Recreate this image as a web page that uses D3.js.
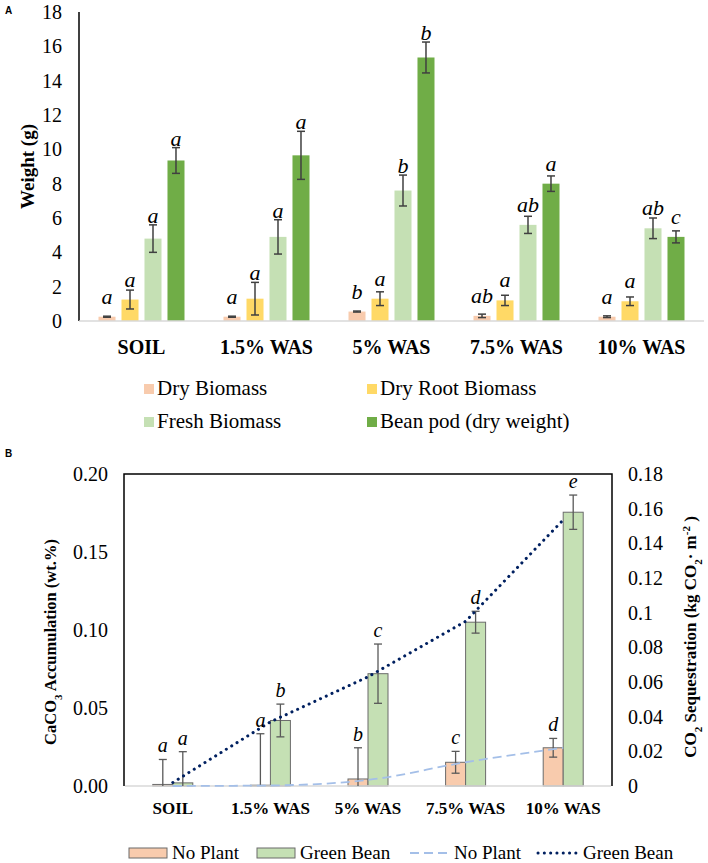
<!DOCTYPE html>
<html>
<head>
<meta charset="utf-8">
<script src="https://cdn.jsdelivr.net/npm/d3@7"></script>
<style>
  html, body { margin: 0; padding: 0; background: #fff; }
  svg { display: block; }
  svg text { font-family: "Liberation Serif", "Times New Roman", Times, "Nimbus Roman", "DejaVu Serif", serif !important; fill: #000; }
  svg text.sans { font-family: "Liberation Sans", Arial, "DejaVu Sans", sans-serif !important; }
</style>
</head>
<body>
<svg id="chart" width="708" height="863"></svg>
<script>
// ---------------- DATA ----------------
const categories = ["SOIL", "1.5% WAS", "5% WAS", "7.5% WAS", "10% WAS"];

// Panel A
const seriesA = ["Dry Biomass", "Dry Root Biomass", "Fresh Biomass", "Bean pod (dry weight)"];
const dryBiomass      = [0.25, 0.25, 0.55, 0.3, 0.25];
const dryBiomassErr   = [0.03, 0.03, 0.03, 0.1, 0.05];
const dryRootBiomass  = [1.25, 1.3, 1.3, 1.2, 1.15];
const dryRootErr      = [0.55, 0.95, 0.4, 0.3, 0.25];
const freshBiomass    = [4.8, 4.9, 7.6, 5.6, 5.4];
const freshErr        = [0.8, 1.0, 0.9, 0.5, 0.6];
const beanPod         = [9.35, 9.65, 15.35, 8.0, 4.9];
const beanPodErr      = [0.75, 1.4, 0.9, 0.45, 0.35];
const lettersDryBiomass = ["a", "a", "b", "ab", "a"];
const lettersDryRoot    = ["a", "a", "a", "a", "a"];
const lettersFresh      = ["a", "a", "b", "ab", "ab"];
const lettersBeanPod    = ["a", "a", "b", "a", "c"];
const ticksA = [0, 2, 4, 6, 8, 10, 12, 14, 16, 18];

// Panel B
const seriesB = ["No Plant", "Green Bean"];
const caco3NoPlant       = [0.001, 0.0005, 0.0045, 0.0152, 0.0245];
const caco3NoPlantErr    = [0.016, 0.033, 0.020, 0.007, 0.006];
const caco3GreenBean     = [0.002, 0.042, 0.072, 0.105, 0.1755];
const caco3GreenBeanErr  = [0.020, 0.0105, 0.019, 0.007, 0.011];
const lettersNoPlant     = ["a", "a", "b", "c", "d"];
const lettersGreenBean   = ["a", "b", "c", "d", "e"];
const co2NoPlant         = [0, 0.0003, 0.0035, 0.0137, 0.022];
const co2GreenBean       = [0.002, 0.037, 0.063, 0.095, 0.1535];
const ticksBLeft  = [0, 0.05, 0.10, 0.15, 0.20];
const ticksBRight = [0, 0.02, 0.04, 0.06, 0.08, 0.1, 0.12, 0.14, 0.16, 0.18];

// ---------------- STYLE ----------------
const colorsA = ["#f8cbad", "#ffd966", "#c5e0b4", "#70ad47"];
const colorsB = ["#f8cbad", "#c5e0b4"];
const errColor = "#404040";

const svg = d3.select("#chart");
svg.append("rect").attr("width", 708).attr("height", 863).attr("fill", "#fff");

// ================= PANEL A =================
const valuesA = [dryBiomass, dryRootBiomass, freshBiomass, beanPod];
const errsA = [dryBiomassErr, dryRootErr, freshErr, beanPodErr];
const lettersA = [lettersDryBiomass, lettersDryRoot, lettersFresh, lettersBeanPod];

const xA = d3.scaleBand().domain(categories).range([79, 704]);
const xAInner = d3.scaleBand().domain(seriesA).range([0, 86]).paddingInner(0.26);
const yA = d3.scaleLinear().domain([0, 18]).range([321, 12]);

const gA = svg.append("g");
gA.append("text").attr("class", "sans").attr("x", 5).attr("y", 14).text("A")
  .style("font-weight", "bold").style("font-size", "10px");

// y axis
const axA = gA.append("g").attr("transform", "translate(79,0)")
  .call(d3.axisLeft(yA).tickValues(ticksA).tickSize(0).tickPadding(17).tickFormat(d3.format("d")));
axA.select(".domain").remove();
axA.selectAll("text").style("font-size", "20px").attr("fill", "#000");
gA.append("line").attr("x1", 79).attr("x2", 79).attr("y1", yA(18)).attr("y2", yA(0))
  .attr("stroke", "#000").attr("stroke-width", 1.5);

gA.append("text").attr("transform", `translate(27,${(yA(0) + yA(18)) / 2}) rotate(-90)`)
  .attr("text-anchor", "middle").attr("dy", "0.35em")
  .style("font-weight", "bold").style("font-size", "19px").text("Weight (g)");

const flatA = [];
seriesA.forEach((s, si) => categories.forEach((c, ci) => {
  flatA.push({ s, si, c, v: valuesA[si][ci], e: errsA[si][ci], l: lettersA[si][ci] });
}));
const barX = d => xA(d.c) + xA.bandwidth() / 2 - 43 + xAInner(d.s);

gA.selectAll("rect.bar").data(flatA).join("rect").attr("class", "bar")
  .attr("x", barX).attr("width", xAInner.bandwidth())
  .attr("y", d => yA(d.v)).attr("height", d => yA(0) - yA(d.v))
  .attr("fill", d => colorsA[d.si]);

gA.append("line").attr("x1", 79).attr("x2", 704).attr("y1", yA(0)).attr("y2", yA(0))
  .attr("stroke", "#d9d9d9").attr("stroke-width", 1.5);

const ebA = gA.selectAll("g.eb").data(flatA).join("g").attr("class", "eb")
  .attr("stroke", errColor).attr("stroke-width", 1.5);
const cxA = d => barX(d) + xAInner.bandwidth() / 2;
ebA.append("line").attr("x1", cxA).attr("x2", cxA)
  .attr("y1", d => yA(d.v + d.e)).attr("y2", d => yA(Math.max(0, d.v - d.e)));
ebA.append("line").attr("x1", d => cxA(d) - 4).attr("x2", d => cxA(d) + 4)
  .attr("y1", d => yA(d.v + d.e)).attr("y2", d => yA(d.v + d.e));
ebA.append("line").attr("x1", d => cxA(d) - 4).attr("x2", d => cxA(d) + 4)
  .attr("y1", d => yA(Math.max(0, d.v - d.e))).attr("y2", d => yA(Math.max(0, d.v - d.e)));

gA.selectAll("text.let").data(flatA).join("text").attr("class", "let")
  .attr("x", cxA)
  .attr("y", d => Math.min(yA(d.v) - 13, yA(d.v + d.e) - 2))
  .attr("text-anchor", "middle")
  .style("font-style", "italic").style("font-size", "22px").text(d => d.l);

const axXA = gA.append("g").attr("transform", `translate(0,${yA(0)})`)
  .call(d3.axisBottom(xA).tickSize(0).tickPadding(19));
axXA.select(".domain").remove();
axXA.selectAll("text").style("font-weight", "bold").style("font-size", "20px").attr("fill", "#000");

const legA = gA.append("g");
const legPosA = [[144, 395], [367, 395], [144, 428], [367, 428]];
seriesA.forEach((s, i) => {
  const [lx, ly] = legPosA[i];
  legA.append("rect").attr("x", lx).attr("y", ly - 11).attr("width", 10).attr("height", 10).attr("fill", colorsA[i]);
  legA.append("text").attr("x", lx + 13).attr("y", ly).style("font-size", "21px").text(s);
});

// ================= PANEL B =================
const gB = svg.append("g");
gB.append("text").attr("class", "sans").attr("x", 5).attr("y", 457).text("B")
  .style("font-weight", "bold").style("font-size", "10px");

const xB = d3.scaleBand().domain(categories).range([124, 612]);
const xBInner = d3.scaleBand().domain(seriesB).range([0, 40]);
const yB = d3.scaleLinear().domain([0, 0.2]).range([786, 474]);
const yR = d3.scaleLinear().domain([0, 0.18]).range([786, 474]);

const axBL = gB.append("g").attr("transform", "translate(124,0)")
  .call(d3.axisLeft(yB).tickValues(ticksBLeft).tickSize(0).tickPadding(16).tickFormat(d3.format(".2f")));
axBL.select(".domain").remove();
axBL.selectAll("text").style("font-size", "20px").attr("fill", "#000");

const axBR = gB.append("g").attr("transform", "translate(612,0)")
  .call(d3.axisRight(yR).tickValues(ticksBRight).tickSize(0).tickPadding(16).tickFormat(d => String(+d.toFixed(2))));
axBR.select(".domain").remove();
axBR.selectAll("text").style("font-size", "20px").attr("fill", "#000");

gB.append("path").attr("d", `M124,786 V474 H612 V786`).attr("fill", "none")
  .attr("stroke", "#000").attr("stroke-width", 1.5);

const tL = gB.append("text").attr("transform", `translate(50,642) rotate(-90)`)
  .attr("text-anchor", "middle").attr("dy", "0.35em")
  .style("font-weight", "bold").style("font-size", "16.5px");
tL.append("tspan").text("CaCO");
tL.append("tspan").attr("baseline-shift", "sub").style("font-size", "11px").text("3");
tL.append("tspan").text(" Accumulation (wt.%)");

const tR = gB.append("text").attr("transform", `translate(690,637) rotate(-90)`)
  .attr("text-anchor", "middle").attr("dy", "0.35em")
  .style("font-weight", "bold").style("font-size", "17px");
tR.append("tspan").text("CO");
tR.append("tspan").attr("baseline-shift", "sub").style("font-size", "11px").text("2");
tR.append("tspan").text(" Sequestration (kg CO");
tR.append("tspan").attr("baseline-shift", "sub").style("font-size", "11px").text("2");
tR.append("tspan").text("· m");
tR.append("tspan").attr("baseline-shift", "super").style("font-size", "11px").text("-2");
tR.append("tspan").text(" )");

const valuesB = [caco3NoPlant, caco3GreenBean];
const errsB = [caco3NoPlantErr, caco3GreenBeanErr];
const lettersB = [lettersNoPlant, lettersGreenBean];
const flatB = [];
seriesB.forEach((s, si) => categories.forEach((c, ci) => {
  flatB.push({ s, si, c, v: valuesB[si][ci], e: errsB[si][ci], l: lettersB[si][ci] });
}));
const barXB = d => xB(d.c) + xB.bandwidth() / 2 - 20 + xBInner(d.s);
const bwB = xBInner.bandwidth();

gB.selectAll("rect.bar").data(flatB).join("rect").attr("class", "bar")
  .attr("x", barXB).attr("width", bwB)
  .attr("y", d => yB(d.v)).attr("height", d => yB(0) - yB(d.v))
  .attr("fill", d => colorsB[d.si]).attr("stroke", "#6b6b6b").attr("stroke-width", 1);

gB.append("line").attr("x1", 125).attr("x2", 611).attr("y1", 786).attr("y2", 786)
  .attr("stroke", "#d9d9d9").attr("stroke-width", 1.5);

const ebB = gB.selectAll("g.eb").data(flatB).join("g").attr("class", "eb")
  .attr("stroke", "#595959").attr("stroke-width", 1.3);
const cxB = d => barXB(d) + bwB / 2;
ebB.append("line").attr("x1", cxB).attr("x2", cxB)
  .attr("y1", d => yB(d.v + d.e)).attr("y2", d => yB(Math.max(0, d.v - d.e)));
ebB.append("line").attr("x1", d => cxB(d) - 4).attr("x2", d => cxB(d) + 4)
  .attr("y1", d => yB(d.v + d.e)).attr("y2", d => yB(d.v + d.e));
ebB.filter(d => d.v - d.e > 0).append("line").attr("x1", d => cxB(d) - 4).attr("x2", d => cxB(d) + 4)
  .attr("y1", d => yB(d.v - d.e)).attr("y2", d => yB(d.v - d.e));

const cx = c => xB(c) + xB.bandwidth() / 2;
gB.append("path").datum(co2NoPlant)
  .attr("d", d3.line().x((d, i) => cx(categories[i])).y(d => yR(d)).curve(d3.curveMonotoneX))
  .attr("fill", "none").attr("stroke", "#a4bfe8").attr("stroke-width", 1.8).attr("stroke-dasharray", "9 5");
gB.append("path").datum(co2GreenBean)
  .attr("d", d3.line().x((d, i) => cx(categories[i])).y(d => yR(d)))
  .attr("fill", "none").attr("stroke", "#002060").attr("stroke-width", 3)
  .attr("stroke-linecap", "round").attr("stroke-dasharray", "0.1 6.2");

gB.selectAll("text.let").data(flatB).join("text").attr("class", "let")
  .attr("x", cxB).attr("y", d => yB(d.v + d.e) - 7)
  .attr("text-anchor", "middle")
  .style("font-style", "italic").style("font-size", "20px").text(d => d.l);

const axXB = gB.append("g").attr("transform", "translate(0,786)")
  .call(d3.axisBottom(xB).tickSize(0).tickPadding(16));
axXB.select(".domain").remove();
axXB.selectAll("text").style("font-weight", "bold").style("font-size", "17px").attr("fill", "#000");

const legB = gB.append("g");
const ly = 853;
legB.append("rect").attr("x", 129).attr("y", ly - 5).attr("width", 38).attr("height", 10)
  .attr("fill", colorsB[0]).attr("stroke", "#6b6b6b").attr("stroke-width", 1);
legB.append("text").attr("x", 172).attr("y", ly + 6).style("font-size", "19px").text(seriesB[0]);
legB.append("rect").attr("x", 257).attr("y", ly - 5).attr("width", 38).attr("height", 10)
  .attr("fill", colorsB[1]).attr("stroke", "#6b6b6b").attr("stroke-width", 1);
legB.append("text").attr("x", 300).attr("y", ly + 6).style("font-size", "19px").text(seriesB[1]);
legB.append("line").attr("x1", 410).attr("x2", 451).attr("y1", ly).attr("y2", ly)
  .attr("stroke", "#a4bfe8").attr("stroke-width", 1.8).attr("stroke-dasharray", "9 5");
legB.append("text").attr("x", 454).attr("y", ly + 6).style("font-size", "19px").text(seriesB[0]);
legB.append("line").attr("x1", 538).attr("x2", 580).attr("y1", ly).attr("y2", ly)
  .attr("stroke", "#002060").attr("stroke-width", 3).attr("stroke-linecap", "round").attr("stroke-dasharray", "0.1 6.2");
legB.append("text").attr("x", 583).attr("y", ly + 6).style("font-size", "19px").text(seriesB[1]);
</script>
</body>
</html>
